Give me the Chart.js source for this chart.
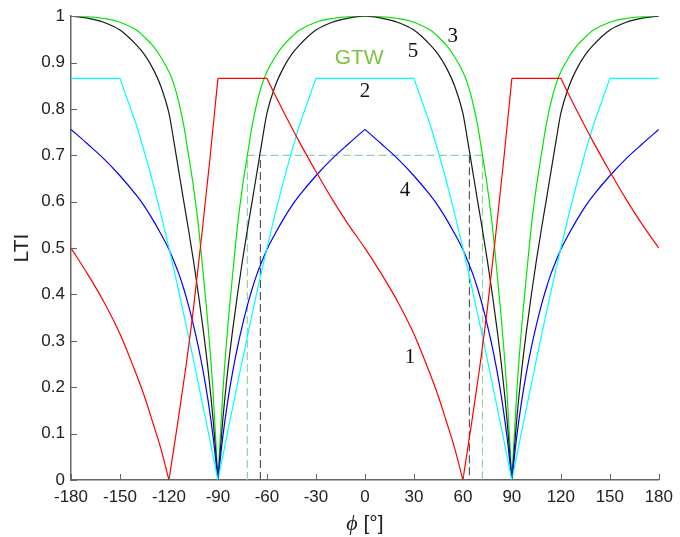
<!DOCTYPE html>
<html>
<head>
<meta charset="utf-8">
<script src="https://cdn.jsdelivr.net/npm/chart.js@4.4.0/dist/chart.umd.min.js"></script>
<style>
  body { margin: 0; background: #fff; }
  canvas { display: block; }
</style>
</head>
<body>
<canvas id="myChart" width="680" height="537"></canvas>
<script>
// angle samples for curves 2..5
var phi = [-180,-170,-160,-150,-140,-135,-130,-125,-120,-117,-114,-111,-108,-105,-102,-99,-96,-93,-90,
  -87,-84,-81,-78,-75,-72,-69,-66,-63,-60,-55,-50,-45,-40,-30,-20,-10,0,
  10,20,30,40,45,50,55,60,63,66,69,72,75,78,81,84,87,90,
  93,96,99,102,105,108,111,114,117,120,125,130,135,140,150,160,170,180];

// curve 2 (cyan)
var curve2 = [0.866,0.866,0.866,0.866,0.766,0.707,0.643,0.574,0.5,0.454,0.407,0.358,0.309,0.259,0.208,0.156,0.105,0.052,0,
  0.052,0.105,0.156,0.208,0.259,0.309,0.358,0.407,0.454,0.5,0.574,0.643,0.707,0.766,0.866,0.866,0.866,0.866,
  0.866,0.866,0.866,0.766,0.707,0.643,0.574,0.5,0.454,0.407,0.358,0.309,0.259,0.208,0.156,0.105,0.052,0,
  0.052,0.105,0.156,0.208,0.259,0.309,0.358,0.407,0.454,0.5,0.574,0.643,0.707,0.766,0.866,0.866,0.866,0.866];

// curve 3 (green)
var curve3 = [1,0.999,0.995,0.987,0.97,0.955,0.937,0.912,0.88,0.853,0.815,0.765,0.70,0.632,0.549,0.443,0.33,0.19,0,
  0.19,0.33,0.443,0.549,0.632,0.70,0.765,0.815,0.853,0.88,0.912,0.937,0.955,0.97,0.987,0.995,0.999,1,
  0.999,0.995,0.987,0.97,0.955,0.937,0.912,0.88,0.853,0.815,0.765,0.70,0.632,0.549,0.443,0.33,0.19,0,
  0.19,0.33,0.443,0.549,0.632,0.70,0.765,0.815,0.853,0.88,0.912,0.937,0.955,0.97,0.987,0.995,0.999,1];

// curve 4 (blue)
var curve4 = [0.756,0.725,0.693,0.656,0.614,0.59,0.562,0.531,0.497,0.472,0.445,0.413,0.376,0.334,0.287,0.233,0.17,0.094,0,
  0.094,0.17,0.233,0.287,0.334,0.376,0.413,0.445,0.472,0.497,0.531,0.562,0.59,0.614,0.656,0.693,0.725,0.756,
  0.725,0.693,0.656,0.614,0.59,0.562,0.531,0.497,0.472,0.445,0.413,0.376,0.334,0.287,0.233,0.17,0.094,0,
  0.094,0.17,0.233,0.287,0.334,0.376,0.413,0.445,0.472,0.497,0.531,0.562,0.59,0.614,0.656,0.693,0.725,0.756];

// curve 5 (black)
var curve5 = [1,0.996,0.987,0.97,0.938,0.917,0.888,0.849,0.791,0.73,0.666,0.602,0.539,0.473,0.401,0.323,0.236,0.131,0,
  0.131,0.236,0.323,0.401,0.473,0.539,0.602,0.666,0.73,0.791,0.849,0.888,0.917,0.938,0.97,0.987,0.996,1,
  0.996,0.987,0.97,0.938,0.917,0.888,0.849,0.791,0.73,0.666,0.602,0.539,0.473,0.401,0.323,0.236,0.131,0,
  0.131,0.236,0.323,0.401,0.473,0.539,0.602,0.666,0.73,0.791,0.849,0.888,0.917,0.938,0.97,0.987,0.996,1];

// curve 1 (red) has its own angles
var phiRed = [-180,-170,-160,-150,-140,-135,-130,-125,-120,-115,-110,-105,-100,-95,-90,
  -60,-55,-50,-40,-30,-20,-10,0,10,20,30,40,45,50,55,60,65,70,75,80,85,90,
  120,125,130,140,150,160,170,180];
var curve1 = [0.5,0.445,0.385,0.315,0.228,0.18,0.125,0.068,0,0.115,0.235,0.37,0.525,0.69,0.866,
  0.866,0.83,0.795,0.728,0.665,0.605,0.55,0.5,0.445,0.385,0.315,0.228,0.18,0.125,0.068,0,0.115,0.235,0.37,0.525,0.69,0.866,
  0.866,0.83,0.795,0.728,0.665,0.605,0.55,0.5];

// angles where a curve has a sharp corner
var zeroPhi = [-90, 90];
var cuspPhi = [-90, 0, 90];
var redCornerPhi = [-120, -90, -60, 60, 90, 120];

// GTW threshold guides
var gtwLevel = 0.7;
var gtwPhi = [-72, 72];
var blackPhi = [-64, 64];

var xTicks = [-180,-150,-120,-90,-60,-30,0,30,60,90,120,150,180];
var yTicks = [0,0.1,0.2,0.3,0.4,0.5,0.6,0.7,0.8,0.9,1];
var yTickLabels = ['0','0.1','0.2','0.3','0.4','0.5','0.6','0.7','0.8','0.9','1'];

var curveLabels = [
  {text: '1', x: 27.6, y: 0.265},
  {text: '2', x: 0, y: 0.838},
  {text: '3', x: 53.8, y: 0.957},
  {text: '4', x: 24.5, y: 0.624},
  {text: '5', x: 29.4, y: 0.925}
];

// {x,y} points; at a corner angle the line is broken and restarted so the
// smooth interpolation keeps the corner sharp
function pts(xs, ys, cuts) {
  var out = [];
  xs.forEach(function (v, i) {
    out.push({x: v, y: ys[i]});
    if (cuts && cuts.indexOf(v) >= 0 && i > 0 && i < xs.length - 1) {
      out.push({x: v, y: null});
      out.push({x: v, y: ys[i]});
    }
  });
  return out;
}

var overlay = {
  id: 'overlay',
  afterDraw: function (chart) {
    var ctx = chart.ctx, x = chart.scales.x, y = chart.scales.y;
    ctx.save();
    // inward tick marks
    ctx.strokeStyle = '#666';
    ctx.lineWidth = 1;
    xTicks.forEach(function (v) {
      var px = Math.round(x.getPixelForValue(v)) + 0.5;
      ctx.beginPath(); ctx.moveTo(px, y.bottom); ctx.lineTo(px, y.bottom - 6); ctx.stroke();
    });
    yTicks.forEach(function (v) {
      var py = Math.round(y.getPixelForValue(v)) + 0.5;
      ctx.beginPath(); ctx.moveTo(x.left, py); ctx.lineTo(x.left + 6, py); ctx.stroke();
    });
    // curve numbers
    ctx.fillStyle = '#111';
    ctx.font = '21px "Liberation Serif", "Times New Roman", serif';
    ctx.textAlign = 'center';
    ctx.textBaseline = 'middle';
    curveLabels.forEach(function (l) {
      ctx.fillText(l.text, x.getPixelForValue(l.x), y.getPixelForValue(l.y));
    });
    ctx.fillStyle = '#7dc242';
    ctx.font = '21px "Liberation Sans", Arial, sans-serif';
    ctx.fillText('GTW', x.getPixelForValue(-3.5), y.getPixelForValue(0.91));
    // axis titles
    ctx.fillStyle = '#222';
    ctx.textBaseline = 'alphabetic';
    ctx.save();
    ctx.translate(28, (y.top + y.bottom) / 2);
    ctx.rotate(-Math.PI / 2);
    ctx.textAlign = 'center';
    ctx.fillText('LTI', 0, 0);
    ctx.restore();
    var cx = (x.left + x.right) / 2;
    ctx.font = 'italic 22px "Liberation Serif", serif';
    var w1 = ctx.measureText('\u03D5').width;
    ctx.font = '21px "Liberation Sans", Arial, sans-serif';
    var w2 = ctx.measureText(' [\u00B0]').width;
    var sx = cx - (w1 + w2) / 2;
    ctx.textAlign = 'left';
    ctx.font = 'italic 22px "Liberation Serif", serif';
    ctx.fillText('\u03D5', sx, 530);
    ctx.font = '21px "Liberation Sans", Arial, sans-serif';
    ctx.fillText(' [\u00B0]', sx + w1, 530);
    ctx.restore();
  }
};

Chart.defaults.font.family = '"Liberation Sans", Arial, sans-serif';
Chart.defaults.font.size = 17;
Chart.defaults.color = '#222';

var ctx = document.getElementById('myChart');
var myChart = new Chart(ctx, {
  type: 'line',
  data: {
    datasets: [
      {data: pts(phiRed, curve1, redCornerPhi), borderColor: '#ff0000', cubicInterpolationMode: 'monotone'},
      {data: pts(phi, curve2), borderColor: '#00ffff'},
      {data: pts(phi, curve4, cuspPhi), borderColor: '#0000ff', cubicInterpolationMode: 'monotone'},
      {data: pts(phi, curve5, zeroPhi), borderColor: '#1a1a1a', cubicInterpolationMode: 'monotone'},
      {data: pts(phi, curve3, zeroPhi), borderColor: '#00e600', cubicInterpolationMode: 'monotone'},
      {
        data: [{x: gtwPhi[0], y: 0}, {x: gtwPhi[0], y: gtwLevel}, {x: gtwPhi[1], y: gtwLevel}, {x: gtwPhi[1], y: 0}],
        borderColor: '#8fd4a0', borderDash: [8, 4]
      },
      {
        data: [{x: blackPhi[0], y: 0}, {x: blackPhi[0], y: gtwLevel}, {x: blackPhi[0], y: null},
               {x: blackPhi[1], y: gtwLevel}, {x: blackPhi[1], y: 0}],
        borderColor: '#555', borderDash: [8, 4]
      }
    ]
  },
  options: {
    responsive: false,
    animation: false,
    layout: {padding: {top: 14, right: 18, left: 0, bottom: 0}},
    plugins: {legend: {display: false}, tooltip: {enabled: false}},
    elements: {point: {radius: 0}, line: {tension: 0, borderWidth: 1.2}},
    scales: {
      x: {
        type: 'linear', min: -180, max: 180,
        afterFit: function (s) { s.height = 57; },
        afterBuildTicks: function (s) { s.ticks = xTicks.map(function (v) { return {value: v}; }); },
        ticks: {padding: 7, maxRotation: 0, autoSkip: false},
        grid: {drawOnChartArea: false, drawTicks: false},
        border: {color: '#666', width: 1.5}
      },
      y: {
        type: 'linear', min: 0, max: 1,
        afterFit: function (s) { s.width = 71; },
        afterBuildTicks: function (s) { s.ticks = yTicks.map(function (v) { return {value: v}; }); },
        ticks: {padding: 6, callback: function (v, i) { return yTickLabels[i]; }},
        grid: {drawOnChartArea: false, drawTicks: false},
        border: {color: '#666', width: 1.5}
      }
    }
  },
  plugins: [overlay]
});
</script>
</body>
</html>
